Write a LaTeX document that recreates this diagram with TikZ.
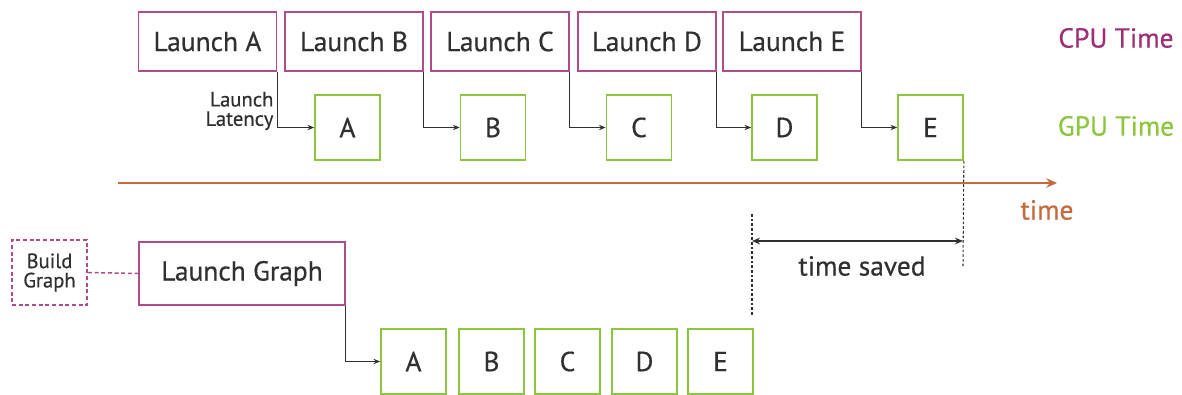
\documentclass[tikz,border=0pt]{standalone}
\usepackage{fontspec}
\setmainfont{PT Sans}[FakeBold=0.5]
\usetikzlibrary{arrows.meta}
\definecolor{cpu}{HTML}{9E2F74}
\definecolor{cpub}{HTML}{B04C8A}
\definecolor{gpu}{HTML}{8CC63F}
\definecolor{tl}{HTML}{C46A3C}
\definecolor{ln}{HTML}{303030}
\begin{document}
\begin{tikzpicture}[x=0.75pt,y=-0.75pt,
  cpubox/.style={draw=cpub,line width=1.3pt,minimum width=103.5pt,minimum height=44.25pt,inner sep=0pt,font=\fontsize{20.6}{22}\selectfont,text=ln},
  gpubox/.style={draw=gpu,line width=1.3pt,minimum width=48.75pt,minimum height=48.75pt,inner sep=0pt,font=\fontsize{20.6}{22}\selectfont,text=ln},
  conn/.style={draw=ln,line width=0.9pt,-{Stealth[length=5pt,width=4pt]}},
  small/.style={font=\fontsize{15.5}{15.5}\selectfont,text=ln,inner sep=1pt},
  lbl/.style={font=\fontsize{20.6}{22}\selectfont,inner sep=0pt}]
\useasboundingbox (0,0) rectangle (1182,395);
% CPU launches
\node[cpubox] (la) at (207.5,41.5) {Launch A};
\node[cpubox] (lb) at (354,41.5) {Launch B};
\node[cpubox] (lc) at (500,41.5) {Launch C};
\node[cpubox] (ld) at (647,41.5) {Launch D};
\node[cpubox] (le) at (792,41.5) {Launch E};
% GPU kernels
\node[gpubox] (ga) at (347.5,127.5) {A};
\node[gpubox] (gb) at (493,127.5) {B};
\node[gpubox] (gc) at (639,127.5) {C};
\node[gpubox] (gd) at (784.5,127.5) {D};
\node[gpubox] (ge) at (930.5,127.5) {E};
\draw[conn] (la.south east) |- (ga.west);
\draw[conn] (lb.south east) |- (gb.west);
\draw[conn] (lc.south east) |- (gc.west);
\draw[conn] (ld.south east) |- (gd.west);
\draw[conn] (le.south east) |- (ge.west);
\node[small,align=right,anchor=east] (lat) at (275,111) {Launch\\[-1pt]Latency};
% labels
\node[lbl,text=cpu] (cput) at (1116,38) {CPU Time};
\node[lbl,text=gpu] (gput) at (1116,126) {GPU Time};
% time axis
\coordinate (t0) at (118,183);
\coordinate (t1) at (1057,183);
\draw[draw=tl,line width=1.6pt,-{Stealth[length=8pt,width=7pt]}] (t0) -- (t1);
\node[lbl,text=tl] (tm) at (1047,210) {time};
% time saved
\coordinate (d1b) at (963,266);
\coordinate (d2a) at (752,214);
\coordinate (d2b) at (752,316);
\draw[ln,line width=0.8pt,dash pattern=on 2pt off 1.5pt] (ge.south east) -- (d1b);
\draw[ln,line width=0.8pt,dash pattern=on 2pt off 1.5pt] (d2a) -- (d2b);
\coordinate (sa) at (752,241);
\coordinate (sb) at (963,241);
\draw[ln,line width=1.2pt,{Stealth[length=6pt,width=5pt]}-{Stealth[length=6pt,width=5pt]}] (sa) -- (sb);
\node[lbl,text=ln] (ts) at (862,266) {time saved};
% graph launch
\node[draw=cpub,line width=1.3pt,dash pattern=on 3pt off 2pt,minimum width=56.25pt,minimum height=48.75pt,inner sep=0pt,small,align=center] (bg) at (49.5,272.5) {Build\\[-1pt]Graph};
\node[cpubox,minimum width=154.5pt,minimum height=47.25pt] (lg) at (242,273.5) {Launch Graph};
\draw[cpub,line width=1.1pt,dash pattern=on 3pt off 2pt] (bg.east) -- (lg.west);
\node[gpubox] (ba) at (413.5,361.5) {A};
\node[gpubox] (bb) at (491.5,361.5) {B};
\node[gpubox] (bc) at (567.5,361.5) {C};
\node[gpubox] (bd) at (644.5,361.5) {D};
\node[gpubox] (be) at (720.5,361.5) {E};
\draw[conn] (lg.south east) |- (ba.west);
\end{tikzpicture}
\end{document}
